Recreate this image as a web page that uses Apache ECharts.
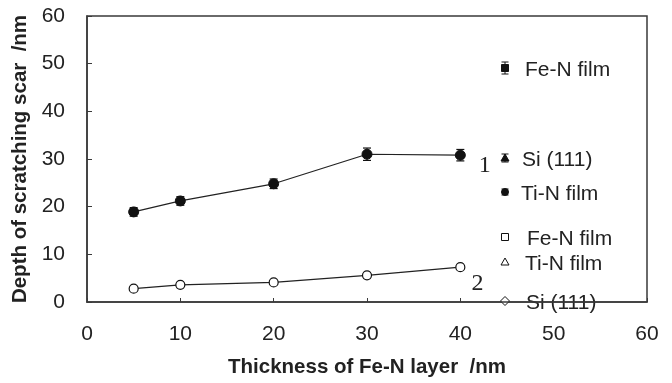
<!DOCTYPE html>
<html>
<head>
<meta charset="utf-8">
<script src="https://cdn.jsdelivr.net/npm/echarts@6/dist/echarts.min.js"></script>
<style>
  html, body { margin: 0; padding: 0; background: #fff; }
  #chart { width: 672px; height: 383px; }
</style>
</head>
<body>
<div id="chart"></div>
<script>
// Fe-N layer thickness (nm)
const thickness = [5, 10, 20, 30, 40];
// Curve 1: scratch depth with error bars
const depthCurve1 = [18.9, 21.2, 24.8, 31.0, 30.8];
const errCurve1 = [0.9, 0.9, 1.0, 1.3, 1.2];
// Curve 2: scratch depth
const depthCurve2 = [2.8, 3.6, 4.1, 5.6, 7.3];
const curveTags = ['1', '2'];

const axisColor = '#3a3a3a';
const font = '"Liberation Sans", Arial, sans-serif';
const serif = '"Liberation Serif", "Times New Roman", serif';

function pairs(xs, ys) { return xs.map((x, i) => [x, ys[i]]); }

function withTag(data, tag, offset) {
  const out = data.map(d => ({ value: d }));
  out[out.length - 1].label = {
    show: true, formatter: tag, position: 'right', offset: offset,
    fontFamily: serif, fontSize: 24, color: '#222'
  };
  return out;
}

const errData = thickness.map((x, i) => [x, depthCurve1[i] - errCurve1[i], depthCurve1[i] + errCurve1[i]]);

// legend block drawn at the right edge, inside the plot frame
function legendIcon(type, filled, cx, cy, bar) {
  const els = [];
  const fill = filled ? '#111' : '#fff';
  const st = { fill: fill, stroke: '#111', lineWidth: 1 };
  if (bar) {
    els.push({ type: 'line', shape: { x1: cx, y1: cy - bar, x2: cx, y2: cy + bar }, style: { stroke: '#111', lineWidth: 1 } });
    els.push({ type: 'line', shape: { x1: cx - 3.5, y1: cy - bar, x2: cx + 3.5, y2: cy - bar }, style: { stroke: '#111', lineWidth: 1 } });
    els.push({ type: 'line', shape: { x1: cx - 3.5, y1: cy + bar, x2: cx + 3.5, y2: cy + bar }, style: { stroke: '#111', lineWidth: 1 } });
  }
  if (type === 'square') {
    els.push({ type: 'rect', shape: { x: cx - 3.5, y: cy - 3.5, width: 7, height: 7 }, style: st });
  } else if (type === 'triangle') {
    els.push({ type: 'polygon', shape: { points: [[cx, cy - 4], [cx + 4, cy + 3], [cx - 4, cy + 3]] }, style: st });
  } else if (type === 'circle') {
    els.push({ type: 'circle', shape: { cx: cx, cy: cy, r: 3.5 }, style: st });
  } else if (type === 'diamond') {
    els.push({ type: 'polygon', shape: { points: [[cx, cy - 4.5], [cx + 4.5, cy], [cx, cy + 4.5], [cx - 4.5, cy]] }, style: st });
  }
  return els;
}

const legendItems = [
  { icon: 'square', filled: true, bar: 6, y: 68, tx: 525, text: 'Fe-N film' },
  { icon: 'triangle', filled: true, bar: 4, y: 158, tx: 522, text: 'Si (111)' },
  { icon: 'circle', filled: true, bar: 3, y: 192, tx: 521, text: 'Ti-N film' },
  { icon: 'square', filled: false, bar: 0, y: 237, tx: 527, text: 'Fe-N film' },
  { icon: 'triangle', filled: false, bar: 0, y: 262, tx: 525, text: 'Ti-N film' },
  { icon: 'diamond', filled: false, bar: 0, y: 301, tx: 526, text: 'Si (111)' }
];

const graphics = [];
legendItems.forEach(it => {
  legendIcon(it.icon, it.filled, 505, it.y, it.bar).forEach(e => graphics.push(e));
  graphics.push({
    type: 'text', x: it.tx, y: it.y + 2,
    style: { text: it.text, font: '21px ' + font, fill: '#222', textVerticalAlign: 'middle' }
  });
});

const chart = echarts.init(document.getElementById('chart'), null, { renderer: 'canvas' });
chart.setOption({
  backgroundColor: '#fff',
  animation: false,
  grid: { left: 87, top: 16, right: 25, bottom: 81, show: true, borderColor: axisColor, borderWidth: 1.5 },
  xAxis: {
    type: 'value', min: 0, max: 60, interval: 10,
    name: 'Thickness of Fe-N layer  /nm', nameLocation: 'middle', nameGap: 55,
    nameTextStyle: { fontFamily: font, fontWeight: 'bold', fontSize: 20.5, color: '#222' },
    axisLine: { lineStyle: { color: axisColor, width: 1.5 } },
    axisTick: { inside: true, length: 4, lineStyle: { color: axisColor } },
    axisLabel: { margin: 22, fontFamily: font, fontSize: 21, color: '#222' },
    splitLine: { show: false }
  },
  yAxis: {
    type: 'value', min: 0, max: 60, interval: 10,
    name: 'Depth of scratching scar  /nm', nameLocation: 'middle', nameGap: 54,
    nameTextStyle: { fontFamily: font, fontWeight: 'bold', fontSize: 20.5, color: '#222' },
    axisLine: { lineStyle: { color: axisColor, width: 1.5 } },
    axisTick: { inside: true, length: 5, lineStyle: { color: axisColor } },
    axisLabel: { margin: 22, fontFamily: font, fontSize: 21, color: '#222' },
    splitLine: { show: false }
  },
  series: [
    {
      type: 'custom', name: 'err1', z: 3,
      renderItem: function (params, api) {
        const x = api.value(0);
        const lo = api.coord([x, api.value(1)]);
        const hi = api.coord([x, api.value(2)]);
        const w = 4;
        return {
          type: 'group',
          children: [
            { type: 'line', shape: { x1: lo[0], y1: lo[1], x2: hi[0], y2: hi[1] }, style: { stroke: '#111', lineWidth: 1 } },
            { type: 'line', shape: { x1: lo[0] - w, y1: lo[1], x2: lo[0] + w, y2: lo[1] }, style: { stroke: '#111', lineWidth: 1.2 } },
            { type: 'line', shape: { x1: hi[0] - w, y1: hi[1], x2: hi[0] + w, y2: hi[1] }, style: { stroke: '#111', lineWidth: 1.2 } }
          ]
        };
      },
      encode: { x: 0, y: [1, 2] },
      data: errData
    },
    {
      type: 'line', name: 'curve1', z: 4,
      data: withTag(pairs(thickness, depthCurve1), curveTags[0], [8, 11]),
      symbol: 'circle', symbolSize: 10,
      lineStyle: { color: '#222', width: 1.2 },
      itemStyle: { color: '#111', borderColor: '#111', borderWidth: 1 }
    },
    {
      type: 'line', name: 'curve2', z: 4,
      data: withTag(pairs(thickness, depthCurve2), curveTags[1], [1, 16]),
      symbol: 'circle', symbolSize: 9,
      lineStyle: { color: '#222', width: 1.2 },
      itemStyle: { color: '#fff', borderColor: '#111', borderWidth: 1.2 }
    }
  ],
  graphic: graphics
});
</script>
</body>
</html>
